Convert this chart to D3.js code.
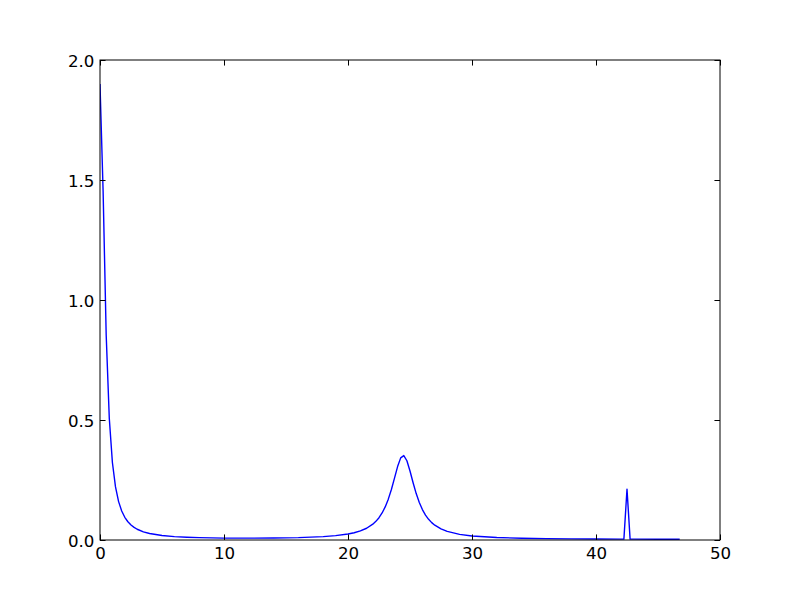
<!DOCTYPE html>
<html>
<head>
<meta charset="utf-8">
<script src="https://cdn.jsdelivr.net/npm/d3@7"></script>
<style>
  html, body { margin: 0; padding: 0; background: #ffffff; }
  svg { display: block; }
  text { font-family: "DejaVu Sans", sans-serif; font-size: 16.67px; fill: #000; }
</style>
</head>
<body>
<svg id="chart" width="800" height="600"></svg>
<script>
// Sample positions (x) and values (y)
const xValues = [
  0, 0.25, 0.5, 0.75, 1.0, 1.25, 1.5, 1.75, 2.0, 2.25, 2.5, 2.75, 3.0, 3.5,
  4, 5, 6, 7, 8, 10, 12, 14, 16, 18, 19, 20, 20.5, 21, 21.5, 22,
  22.25, 22.5, 22.75, 23, 23.25, 23.5, 23.75, 24, 24.25, 24.5, 24.75, 25,
  25.25, 25.5, 25.75, 26, 26.25, 26.5, 26.75, 27, 27.5, 28, 29, 30,
  32, 34, 36, 38, 40, 42, 42.25, 42.5, 42.75, 43, 45, 46.75
];
const yValues = [
  1.900, 1.455, 0.853, 0.506, 0.323, 0.221, 0.160, 0.121, 0.0946, 0.0761, 0.0626, 0.0525, 0.0448, 0.0340,
  0.0269, 0.0185, 0.0140, 0.0113, 0.0097, 0.0080, 0.0076, 0.0082, 0.0099, 0.0140, 0.0180, 0.0249, 0.0302, 0.0378, 0.0490, 0.0660,
  0.0778, 0.0930, 0.1126, 0.1378, 0.1702, 0.2106, 0.2580, 0.3060, 0.3422, 0.3518, 0.3302, 0.2874,
  0.2384, 0.1934, 0.1561, 0.1268, 0.1039, 0.0863, 0.0725, 0.0617, 0.0461, 0.0357, 0.0235, 0.0169,
  0.0104, 0.0074, 0.0058, 0.0048, 0.0041, 0.0037, 0.0037, 0.212, 0.0037, 0.0036, 0.0033, 0.0031
];
const xTicks = [0, 10, 20, 30, 40, 50];
const yTicks = [0.0, 0.5, 1.0, 1.5, 2.0];
const xTickLabels = ["0", "10", "20", "30", "40", "50"];
const yTickLabels = ["0.0", "0.5", "1.0", "1.5", "2.0"];

(function () {
  const margin = { left: 100, right: 80, top: 60, bottom: 60 };
  const W = 800, H = 600;
  const iw = W - margin.left - margin.right;
  const ih = H - margin.top - margin.bottom;
  const fontPx = 16.67;

  const svg = d3.select("#chart");
  const g = svg.append("g").attr("transform", `translate(${margin.left},${margin.top})`);

  const x = d3.scaleLinear().domain([0, 50]).range([0, iw]);
  const y = d3.scaleLinear().domain([0, 2.0]).range([ih, 0]);

  svg.append("defs").append("clipPath").attr("id", "clip")
    .append("rect").attr("x", 0).attr("y", 0).attr("width", iw).attr("height", ih);

  const data = xValues.map((v, i) => [v, yValues[i]]);
  const line = d3.line().x(d => x(d[0])).y(d => y(d[1]));

  g.append("path")
    .datum(data)
    .attr("clip-path", "url(#clip)")
    .attr("fill", "none")
    .attr("stroke", "#0000ff")
    .attr("stroke-width", 1.39)
    .attr("stroke-linejoin", "round")
    .attr("d", line);

  const tickLen = 5.56;
  const axBottom = g.append("g").attr("transform", `translate(0,${ih})`)
    .call(d3.axisBottom(x).tickValues(xTicks).tickFormat((d, i) => xTickLabels[i]).tickSizeInner(-tickLen).tickSizeOuter(0).tickPadding(0));
  const axTop = g.append("g")
    .call(d3.axisTop(x).tickValues(xTicks).tickFormat("").tickSizeInner(-tickLen).tickSizeOuter(0));
  const axLeft = g.append("g")
    .call(d3.axisLeft(y).tickValues(yTicks).tickFormat((d, i) => yTickLabels[i]).tickSizeInner(-tickLen).tickSizeOuter(0).tickPadding(0));
  const axRight = g.append("g").attr("transform", `translate(${iw},0)`)
    .call(d3.axisRight(y).tickValues(yTicks).tickFormat("").tickSizeInner(-tickLen).tickSizeOuter(0));

  [axBottom, axTop, axLeft, axRight].forEach(a => {
    a.select(".domain").remove();
    a.selectAll(".tick line").attr("stroke", "#000").attr("stroke-width", 1);
    a.selectAll("text").attr("font-family", "DejaVu Sans, sans-serif").attr("font-size", fontPx).attr("fill", "#000");
  });

  axBottom.selectAll(".tick text").attr("y", 19).attr("dy", null);
  axLeft.selectAll(".tick text").attr("x", -5.6).attr("dy", "0.36em");

  g.append("rect")
    .attr("x", 0).attr("y", 0).attr("width", iw).attr("height", ih)
    .attr("fill", "none").attr("stroke", "#000").attr("stroke-width", 1);
})();
</script>
</body>
</html>
